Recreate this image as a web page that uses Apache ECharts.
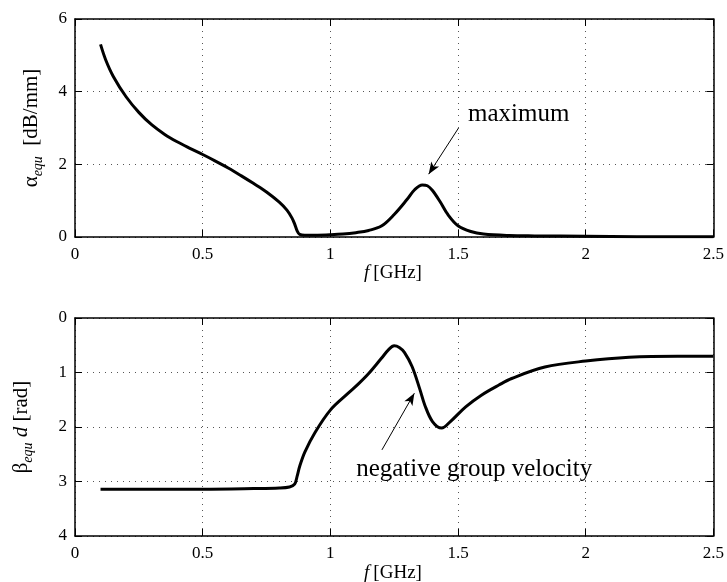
<!DOCTYPE html>
<html><head><meta charset="utf-8">
<script src="https://cdn.jsdelivr.net/npm/echarts@6/dist/echarts.min.js"></script>
<style>html,body{margin:0;padding:0;background:#fff}#c{width:727px;height:582px}</style>
</head><body><div id="c"></div>
<script>
// ---- data ----
const xTickValues = [0, 0.5, 1, 1.5, 2, 2.5];
const alphaTickValues = [0, 2, 4, 6];
const betaTickValues = [0, 1, 2, 3, 4];

const alphaFreq = [0.10,0.12,0.15,0.20,0.25,0.30,0.35,0.40,0.45,0.50,0.55,0.60,0.65,0.70,0.75,0.80,0.83,0.85,0.86,0.87,0.88,0.90,0.95,1.00,1.05,1.10,1.15,1.20,1.25,1.30,1.33,1.36,1.38,1.40,1.43,1.46,1.50,1.55,1.60,1.70,1.80,2.00,2.20,2.50];
const alphaValues = [5.30,4.88,4.42,3.86,3.43,3.09,2.83,2.62,2.44,2.27,2.09,1.90,1.69,1.47,1.24,0.96,0.74,0.52,0.36,0.17,0.07,0.05,0.05,0.06,0.08,0.12,0.18,0.30,0.62,1.03,1.30,1.43,1.41,1.28,0.97,0.62,0.31,0.15,0.08,0.04,0.03,0.02,0.01,0.01];

const betaFreq = [0.10,0.30,0.50,0.70,0.80,0.84,0.86,0.87,0.88,0.90,0.94,1.00,1.07,1.11,1.15,1.20,1.23,1.25,1.27,1.29,1.32,1.35,1.37,1.40,1.436,1.47,1.53,1.59,1.66,1.71,1.84,2.00,2.17,2.36,2.50];
const betaValues = [3.14,3.14,3.14,3.13,3.12,3.10,3.05,2.90,2.72,2.46,2.10,1.69,1.38,1.21,1.02,0.74,0.57,0.51,0.54,0.63,0.89,1.30,1.60,1.90,2.02,1.90,1.63,1.42,1.23,1.11,0.90,0.79,0.72,0.70,0.70];

const alphaNote = { text: 'maximum', at: [1.537, 3.36], arrowFrom: [1.502, 3.0], arrowTo: [1.385, 1.73] };
const betaNote = { text: 'negative group velocity', at: [1.099, 2.77], arrowFrom: [1.202, 2.42], arrowTo: [1.329, 1.38] };

// ---- chart ----
const FF = '"Liberation Serif", "Times New Roman", serif';
const pair = (xs, ys) => xs.map((x, i) => [x, ys[i]]);
const step = a => a[1] - a[0];

const gridLine = { show: true, lineStyle: { color: '#555', width: 1, type: [1, 5] } };
const axisLine = { show: true, onZero: false, lineStyle: { color: '#000', width: 1.5 } };
const tickIn = { show: true, inside: true, length: 7, lineStyle: { color: '#000', width: 1 } };
const lbl = { color: '#000', fontFamily: FF, fontSize: 17 };

function xAxes(gi) {
  const base = { type: 'value', gridIndex: gi, min: xTickValues[0], max: xTickValues[xTickValues.length - 1], interval: step(xTickValues), axisLine, axisTick: tickIn };
  return [
    Object.assign({}, base, { position: 'bottom', axisLabel: Object.assign({ margin: 9 }, lbl), splitLine: gridLine }),
    Object.assign({}, base, { position: 'top', axisLabel: { show: false }, splitLine: { show: false } })
  ];
}
function yAxes(gi, ticks, inverse) {
  const base = { type: 'value', gridIndex: gi, inverse: inverse, min: ticks[0], max: ticks[ticks.length - 1], interval: step(ticks), axisLine, axisTick: tickIn };
  return [
    Object.assign({}, base, { position: 'left', axisLabel: Object.assign({ margin: 8 }, lbl), splitLine: gridLine }),
    Object.assign({}, base, { position: 'right', axisLabel: { show: false }, splitLine: { show: false } })
  ];
}
function note(n) {
  return {
    markLine: {
      silent: true, symbol: ['none', 'arrow'], symbolSize: [7, 12],
      lineStyle: { color: '#000', width: 1, type: 'solid' }, label: { show: false },
      data: [[{ coord: n.arrowFrom }, { coord: n.arrowTo }]]
    },
    markPoint: {
      silent: true, symbol: 'circle', symbolSize: 1, itemStyle: { color: 'rgba(0,0,0,0)' },
      label: { show: true, position: 'right', distance: 0, formatter: n.text, color: '#000', fontFamily: FF, fontSize: 25 },
      data: [{ coord: n.at }]
    }
  };
}

const chart = echarts.init(document.getElementById('c'), null, { renderer: 'canvas' });
const rich = {
  g: { fontFamily: FF, fontSize: 21, lineHeight: 21, color: '#000' },
  s: { fontFamily: FF, fontSize: 14, fontStyle: 'italic', lineHeight: 14, padding: [14, 0, 0, 0], color: '#000' },
  i: { fontFamily: FF, fontSize: 21, fontStyle: 'italic', lineHeight: 21, color: '#000' },
  n: { fontFamily: FF, fontSize: 21, lineHeight: 21, color: '#000' }
};
const xRich = {
  i: { fontFamily: FF, fontSize: 19, fontStyle: 'italic', padding: [0, 4, 0, 0], color: '#000' },
  n: { fontFamily: FF, fontSize: 19, color: '#000' }
};
chart.setOption({
  animation: false,
  backgroundColor: '#fff',
  grid: [
    { left: 75, top: 19, width: 641, height: 218 },
    { left: 75, top: 318, width: 641, height: 218 }
  ],
  xAxis: [...xAxes(0), ...xAxes(1)],
  yAxis: [...yAxes(0, alphaTickValues, false), ...yAxes(1, betaTickValues, true)],
  series: [
    Object.assign({
      type: 'line', xAxisIndex: 0, yAxisIndex: 0, data: pair(alphaFreq, alphaValues),
      showSymbol: false, smooth: 0.35,
      lineStyle: { color: '#000', width: 3 }, itemStyle: { color: '#000' }
    }, note(alphaNote)),
    Object.assign({
      type: 'line', xAxisIndex: 2, yAxisIndex: 2, data: pair(betaFreq, betaValues),
      showSymbol: false, smooth: 0.35,
      lineStyle: { color: '#000', width: 3 }, itemStyle: { color: '#000' }
    }, note(betaNote))
  ],
  graphic: [
    { type: 'text', x: 31, y: 128, rotation: Math.PI / 2, style: { text: '{g|α}{s|equ}{n|  [dB/mm]}', rich, align: 'center', verticalAlign: 'middle' } },
    { type: 'text', x: 21.5, y: 427, rotation: Math.PI / 2, style: { text: '{g|β}{s|equ}{i| d}{n| [rad]}', rich, align: 'center', verticalAlign: 'middle' } },
    { type: 'text', x: 393, y: 273, style: { text: '{i|f}{n|[GHz]}', rich: xRich, align: 'center', verticalAlign: 'middle' } },
    { type: 'text', x: 393, y: 573, style: { text: '{i|f}{n|[GHz]}', rich: xRich, align: 'center', verticalAlign: 'middle' } }
  ]
});
</script></body></html>
